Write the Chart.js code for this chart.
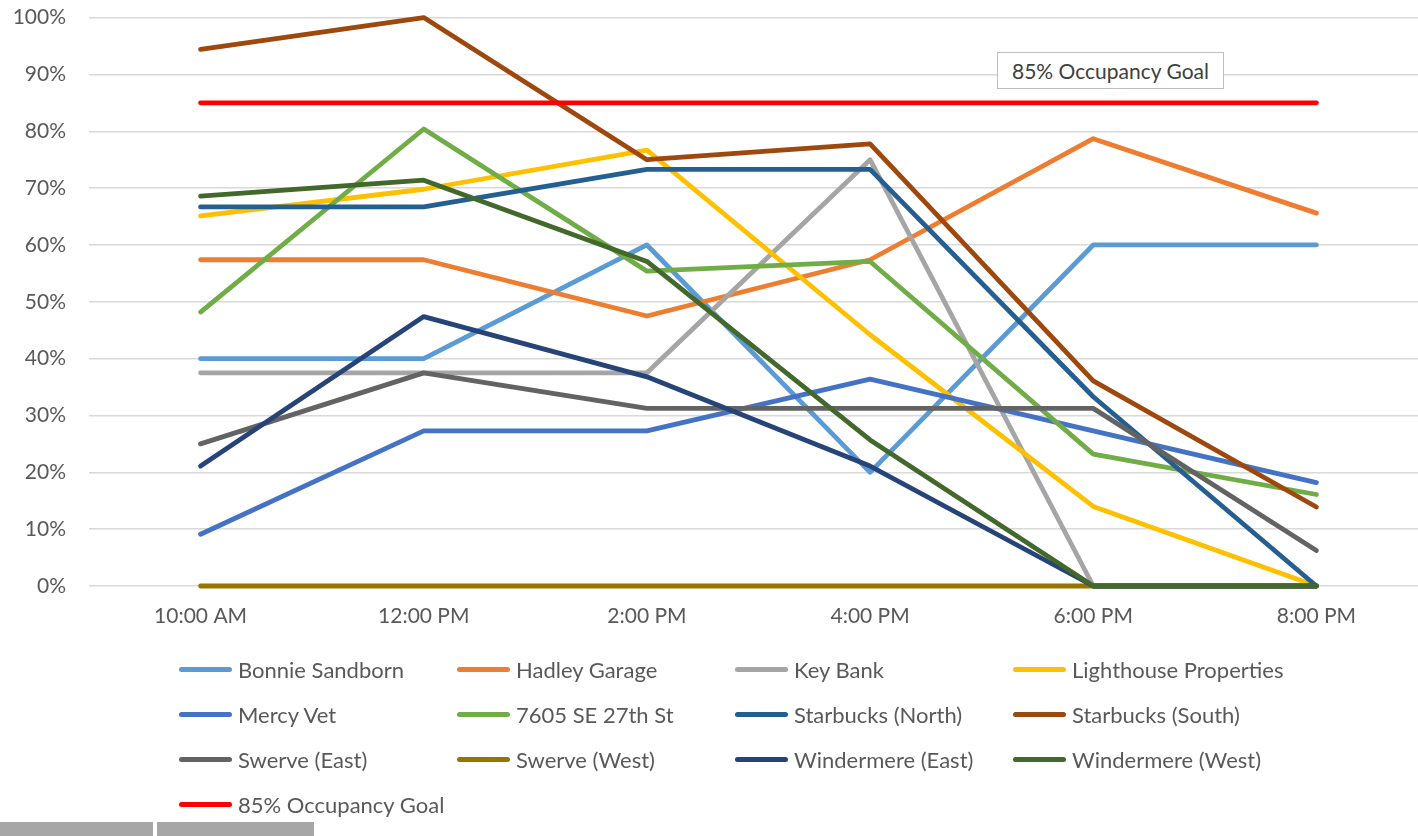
<!DOCTYPE html>
<html>
<head>
<meta charset="utf-8">
<script src="https://cdn.jsdelivr.net/npm/chart.js@4.4.1/dist/chart.umd.min.js"></script>
<style>
    body { margin: 0; overflow: hidden; background: #fff; width: 1418px; height: 836px; position: relative; font-family: Lato, 'Noto Sans', sans-serif; }
    #wrap { position: absolute; left: 0; top: -18px; }
    #goal-box { position: absolute; left: 997px; top: 52px; width: 211px; height: 35px; border: 1.5px solid #BFBFBF; background: #fff;
        font-size: 21px; color: #404040; line-height: 35px; padding-left: 14px; box-sizing: content-box; }
    #legend { position: absolute; left: 179px; top: 647px; display: grid; grid-template-columns: repeat(4, 278px); grid-auto-rows: 45px; }
    .item { display: flex; align-items: center; font-size: 22px; color: #595959; white-space: nowrap; }
    .item span.swatch { display: inline-block; width: 53px; height: 5px; border-radius: 3px; margin-right: 6px; }
    .tab { position: absolute; top: 822px; height: 14px; background: #A6A6A6; }
</style>
</head>
<body>
<div id="wrap"><canvas id="occ-chart" width="1428" height="668"></canvas></div>
<div id="goal-box">85% Occupancy Goal</div>
<div id="legend"></div>
<div class="tab" style="left:0;width:153px"></div>
<div class="tab" style="left:157px;width:157px"></div>
<script>
let timeLabels = ['10:00 AM', '12:00 PM', '2:00 PM', '4:00 PM', '6:00 PM', '8:00 PM'];

let bonnieSandborn = [40, 40, 60, 20, 60, 60];
let hadleyGarage = [57.4, 57.4, 47.5, 57.4, 78.7, 65.6];
let keyBank = [37.5, 37.5, 37.5, 75, 0, 0];
let lighthouseProps = [65.1, 69.8, 76.7, 44.2, 14, 0];
let mercyVet = [9.1, 27.3, 27.3, 36.4, 27.3, 18.2];
let se27th = [48.2, 80.4, 55.4, 57.1, 23.2, 16.1];
let starbucksNorth = [66.7, 66.7, 73.3, 73.3, 33.3, 0];
let starbucksSouth = [94.4, 100, 75, 77.8, 36.1, 13.9];
let swerveEast = [25, 37.5, 31.25, 31.25, 31.25, 6.25];
let swerveWest = [0, 0, 0, 0, 0, 0];
let windermereEast = [21.1, 47.4, 36.8, 21.1, 0, 0];
let windermereWest = [68.6, 71.4, 57.1, 25.7, 0, 0];
let occupancyGoal = [85, 85, 85, 85, 85, 85];

let seriesNames = ['Bonnie Sandborn', 'Hadley Garage', 'Key Bank', 'Lighthouse Properties', 'Mercy Vet', '7605 SE 27th St',
    'Starbucks (North)', 'Starbucks (South)', 'Swerve (East)', 'Swerve (West)', 'Windermere (East)', 'Windermere (West)', '85% Occupancy Goal'];
let seriesData = [bonnieSandborn, hadleyGarage, keyBank, lighthouseProps, mercyVet, se27th,
    starbucksNorth, starbucksSouth, swerveEast, swerveWest, windermereEast, windermereWest, occupancyGoal];
let seriesColors = ['#5B9BD5', '#ED7D31', '#A5A5A5', '#FFC000', '#4472C4', '#70AD47',
    '#255E91', '#9E480E', '#636363', '#997300', '#264478', '#43682B', '#FF0000'];

let yTicks = [0, 10, 20, 30, 40, 50, 60, 70, 80, 90, 100];

let datasets = seriesNames.map(function (name, i) {
    return {
        label: name,
        data: seriesData[i],
        borderColor: seriesColors[i],
        backgroundColor: seriesColors[i],
        borderWidth: 4.8,
        borderCapStyle: 'round',
        borderJoinStyle: 'round',
        pointRadius: 0,
        pointHoverRadius: 0,
        tension: 0,
        fill: false,
        clip: false,
        order: seriesNames.length - i   // later series drawn on top, like excel
    };
});

let ctx = document.getElementById('occ-chart');
let occChart = new Chart(ctx, {
    type: 'line',
    data: { labels: timeLabels, datasets: datasets },
    options: {
        responsive: false,
        animation: false,
        layout: { padding: { top: 0, left: 0, right: 0, bottom: 0 } },
        plugins: {
            legend: { display: false },
            tooltip: { enabled: false }
        },
        scales: {
            x: {
                offset: true,
                grid: { display: false, drawTicks: false },
                border: { display: false },
                ticks: { padding: 18, color: '#595959', font: { family: 'Lato', size: 21 }, maxRotation: 0 },
                afterFit: function (scale) { scale.height = 64; }
            },
            y: {
                min: 0,
                max: 100,
                afterBuildTicks: function (scale) { scale.ticks = yTicks.map(function (v) { return { value: v }; }); },
                grid: { color: '#D9D9D9', lineWidth: 1.5, drawTicks: false },
                border: { display: false },
                ticks: {
                    padding: 23,
                    color: '#595959',
                    font: { family: 'Lato', size: 21 },
                    callback: function (v) { return v + '%'; }
                },
                afterFit: function (scale) { scale.width = 89; }
            }
        }
    }
});

// legend in a 4 column grid, left aligned like the original
let legendEl = document.getElementById('legend');
seriesNames.forEach(function (name, i) {
    let item = document.createElement('div');
    item.className = 'item';
    item.innerHTML = '<span class="swatch" style="background:' + seriesColors[i] + '"></span>' + name;
    legendEl.appendChild(item);
});
</script>
</body>
</html>
